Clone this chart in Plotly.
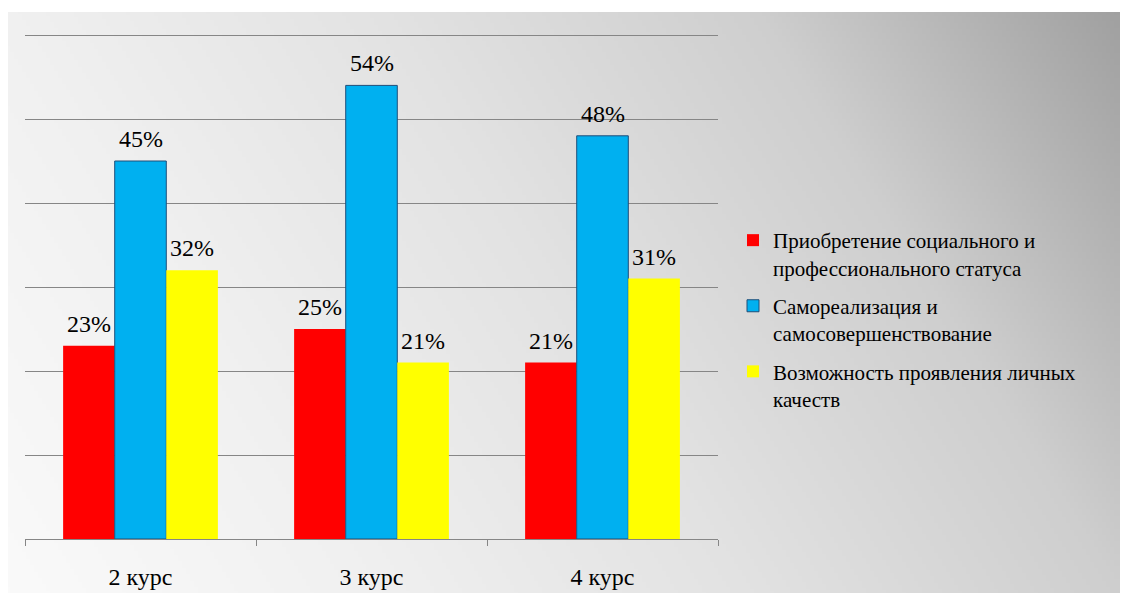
import base64
import struct
import zlib

import plotly.graph_objects as go

# ---- data ----
categories = ["2 курс", "3 курс", "4 курс"]
series_names = [
    "Приобретение социального и<br>профессионального статуса",
    "Самореализация и<br>самосовершенствование",
    "Возможность проявления личных<br>качеств",
]
status_vals = [23, 25, 21]
selfreal_vals = [45, 54, 48]
personal_vals = [32, 21, 31]
y_max = 60
y_step = 10

colors = ["#ff0000", "#00b0f0", "#ffff00"]
outlines = ["#ff0000", "#1f4e79", "#ffff00"]

# page body has an 8px margin; figure sized to fit inside the window
OFF = 8
FW, FH = 1128 - 2 * OFF, 601 - 2 * OFF


# ---- background gradient image (decoration) ----
def make_gradient_png(w, h):
    stops = [(0.0, 250), (0.25, 240), (0.5, 226), (0.75, 206), (1.0, 158)]

    def shade(t):
        t = max(0.0, min(1.0, t))
        for (t0, v0), (t1, v1) in zip(stops[:-1], stops[1:]):
            if t <= t1:
                return int(round(v0 + (v1 - v0) * (t - t0) / (t1 - t0)))
        return stops[-1][1]

    raw = bytearray()
    for j in range(h):
        py = (j + 0.5) * FH / h + OFF
        raw.append(0)
        for i in range(w):
            px = (i + 0.5) * FW / w + OFF
            if py < 12:
                v = 255
            else:
                t = 0.75 * px / 1128 + 0.25 * (601 - py) / 601
                v = shade(t)
            raw += bytes((v, v, v))

    def chunk(tag, data):
        return (struct.pack(">I", len(data)) + tag + data
                + struct.pack(">I", zlib.crc32(tag + data) & 0xffffffff))

    png = (b"\x89PNG\r\n\x1a\n"
           + chunk(b"IHDR", struct.pack(">IIBBBBB", w, h, 8, 2, 0, 0, 0))
           + chunk(b"IDAT", zlib.compress(bytes(raw), 9))
           + chunk(b"IEND", b""))
    return "data:image/png;base64," + base64.b64encode(png).decode()


bg = make_gradient_png(278, FH)

FONT = "Liberation Serif"

# screen-pixel layout of the plot area (top gridline at 35, baseline at 539)
grid_top_px, base_px = 35, 539
pad_px = 3  # keep the top gridline away from the plot edge so it is drawn
px_per_unit = (base_px - grid_top_px) / y_max
range_top = y_max + pad_px / px_per_unit

plot_left, plot_right = 25 - OFF, 718 - OFF
plot_top, plot_bottom = grid_top_px - pad_px - OFF, base_px - OFF
bargap = 0.33
bar_px = (plot_right - plot_left) / len(categories) * (1 - bargap) / 3

fig = go.Figure()
all_vals = [status_vals, selfreal_vals, personal_vals]
for i, (name, vals) in enumerate(zip(series_names, all_vals)):
    fig.add_trace(go.Bar(
        x=categories,
        y=vals,
        name=name,
        legendgroup=f"g{i}",
        marker=dict(color=colors[i], line=dict(color=outlines[i], width=1 if i == 1 else 0)),
    ))

annotations = []
for i, vals in enumerate(all_vals):
    for cat, v in zip(categories, vals):
        annotations.append(dict(
            x=cat, y=v, xref="x", yref="y",
            text=f"{v}%", showarrow=False,
            xanchor="center", yanchor="bottom",
            xshift=(i - 1) * bar_px, yshift=7,
            font=dict(family=FONT, size=24, color="#000000"),
        ))

fig.update_layout(
    width=FW,
    height=FH,
    margin=dict(l=0, r=0, t=0, b=0, autoexpand=False),
    paper_bgcolor="white",
    plot_bgcolor="rgba(0,0,0,0)",
    barmode="group",
    bargap=bargap,
    bargroupgap=0,
    font=dict(family=FONT, color="#000000"),
    annotations=annotations,
    images=[dict(
        source=bg, xref="paper", yref="paper", x=0, y=1, sizex=1, sizey=1,
        xanchor="left", yanchor="top", sizing="stretch", layer="below",
    )],
    xaxis=dict(
        domain=[plot_left / FW, plot_right / FW],
        showline=True,
        linecolor="#868686",
        linewidth=1,
        ticks="outside",
        tickson="boundaries",
        ticklen=6,
        tickcolor="#868686",
        tickfont=dict(family=FONT, size=24, color="#000000"),
        ticklabelstandoff=16,
        showgrid=False,
    ),
    yaxis=dict(
        domain=[(FH - plot_bottom) / FH, (FH - plot_top) / FH],
        range=[0, range_top],
        tick0=0,
        dtick=y_step,
        showgrid=True,
        gridcolor="#868686",
        gridwidth=1,
        showticklabels=False,
        zeroline=False,
        showline=False,
    ),
    legend=dict(
        xref="container", yref="container",
        x=725 / FW, y=1 - 212 / FH,
        xanchor="left", yanchor="top",
        bgcolor="rgba(0,0,0,0)",
        font=dict(family=FONT, size=21, color="#000000"),
        tracegroupgap=8,
        valign="top",
        itemwidth=30,
    ),
    showlegend=True,
)

fig.write_html("out.html")
